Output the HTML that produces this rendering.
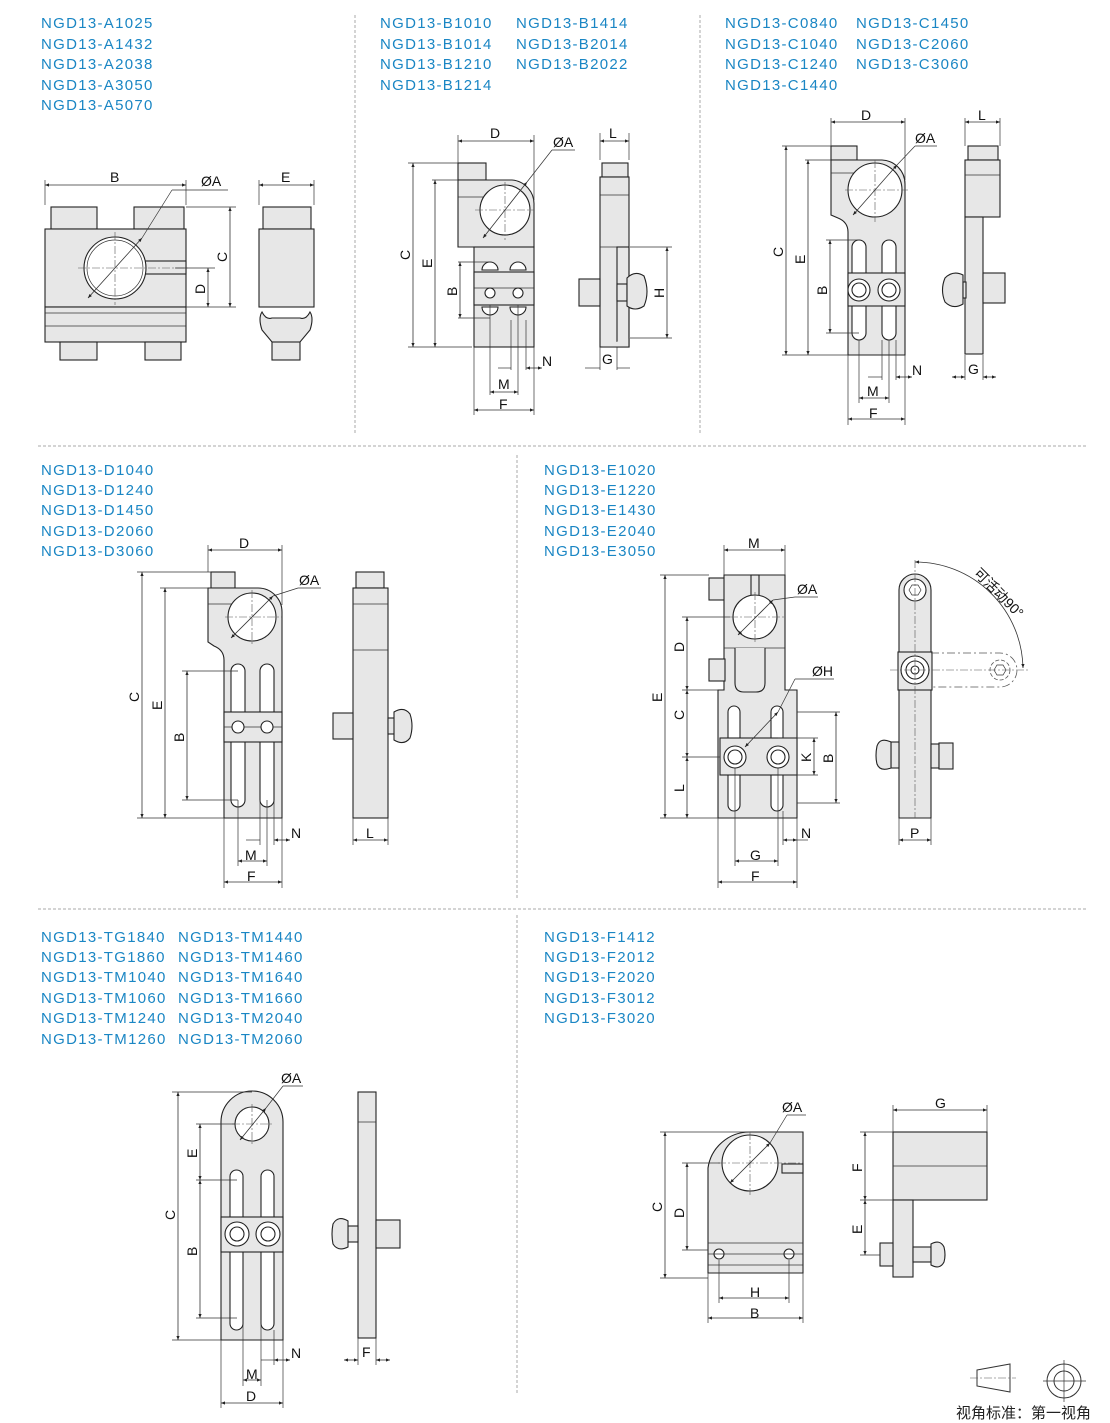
<!DOCTYPE html>
<html><head><meta charset="utf-8"><style>
html,body{margin:0;padding:0;background:#fff;}
svg{display:block;}
.t{font-family:"Liberation Sans",sans-serif;font-size:15px;fill:#1a86c4;letter-spacing:1.3px;}
.l{font-family:"Liberation Sans",sans-serif;font-size:14px;fill:#111;}
.p{fill:#e7e7e7;stroke:#222;stroke-width:1.1;}
.w{fill:#fff;stroke:#222;stroke-width:1.1;}
.d{stroke:#333;stroke-width:0.8;fill:none;marker-start:url(#a);marker-end:url(#a);}
.e{stroke:#333;stroke-width:0.7;fill:none;}
.c{stroke:#555;stroke-width:0.6;fill:none;stroke-dasharray:8 2 2 2;}
.sep{stroke:#aaa;stroke-width:1;stroke-dasharray:3 2;fill:none;}
</style></head><body>
<svg width="1110" height="1423" viewBox="0 0 1110 1423" xmlns="http://www.w3.org/2000/svg">
<defs><marker id="a" viewBox="0 0 10 10" refX="10" refY="5" markerWidth="7" markerHeight="5" orient="auto-start-reverse"><path d="M0,1 L10,5 L0,9 z" fill="#222"/></marker></defs>

<line class="sep" x1="355" y1="15" x2="355" y2="435"/>
<line class="sep" x1="700" y1="15" x2="700" y2="435"/>
<line class="sep" x1="38" y1="446" x2="1088" y2="446"/>
<line class="sep" x1="517" y1="455" x2="517" y2="900"/>
<line class="sep" x1="38" y1="909" x2="1088" y2="909"/>
<line class="sep" x1="517" y1="915" x2="517" y2="1395"/>

<g class="t">
<text x="41" y="28">NGD13-A1025</text><text x="41" y="49">NGD13-A1432</text><text x="41" y="69">NGD13-A2038</text><text x="41" y="90">NGD13-A3050</text><text x="41" y="110">NGD13-A5070</text>
<text x="380" y="28">NGD13-B1010</text><text x="380" y="49">NGD13-B1014</text><text x="380" y="69">NGD13-B1210</text><text x="380" y="90">NGD13-B1214</text>
<text x="516" y="28">NGD13-B1414</text><text x="516" y="49">NGD13-B2014</text><text x="516" y="69">NGD13-B2022</text>
<text x="725" y="28">NGD13-C0840</text><text x="725" y="49">NGD13-C1040</text><text x="725" y="69">NGD13-C1240</text><text x="725" y="90">NGD13-C1440</text>
<text x="856" y="28">NGD13-C1450</text><text x="856" y="49">NGD13-C2060</text><text x="856" y="69">NGD13-C3060</text>
<text x="41" y="475">NGD13-D1040</text><text x="41" y="495">NGD13-D1240</text><text x="41" y="515">NGD13-D1450</text><text x="41" y="536">NGD13-D2060</text><text x="41" y="556">NGD13-D3060</text>
<text x="544" y="475">NGD13-E1020</text><text x="544" y="495">NGD13-E1220</text><text x="544" y="515">NGD13-E1430</text><text x="544" y="536">NGD13-E2040</text><text x="544" y="556">NGD13-E3050</text>
<text x="41" y="942">NGD13-TG1840</text><text x="41" y="962">NGD13-TG1860</text><text x="41" y="982">NGD13-TM1040</text><text x="41" y="1003">NGD13-TM1060</text><text x="41" y="1023">NGD13-TM1240</text><text x="41" y="1044">NGD13-TM1260</text>
<text x="178" y="942">NGD13-TM1440</text><text x="178" y="962">NGD13-TM1460</text><text x="178" y="982">NGD13-TM1640</text><text x="178" y="1003">NGD13-TM1660</text><text x="178" y="1023">NGD13-TM2040</text><text x="178" y="1044">NGD13-TM2060</text>
<text x="544" y="942">NGD13-F1412</text><text x="544" y="962">NGD13-F2012</text><text x="544" y="982">NGD13-F2020</text><text x="544" y="1003">NGD13-F3012</text><text x="544" y="1023">NGD13-F3020</text>
</g>

<!-- ===== A ===== -->
<rect class="p" x="51" y="207" width="46" height="22"/><rect class="p" x="134" y="207" width="50" height="22"/>
<rect class="p" x="45" y="229" width="141" height="78"/>
<rect class="w" x="145" y="261" width="41" height="13" style="fill:#e7e7e7"/>
<rect class="p" x="45" y="307" width="141" height="35"/>
<line class="e" x1="45" y1="313" x2="186" y2="313"/><line class="e" x1="45" y1="326" x2="186" y2="326"/>
<rect class="p" x="60" y="342" width="37" height="18"/><rect class="p" x="145" y="342" width="36" height="18"/>
<circle class="w" cx="115" cy="268" r="31"/><circle class="e" cx="115" cy="268" r="28"/>
<line class="c" x1="78" y1="268" x2="190" y2="268"/><line class="c" x1="115" y1="232" x2="115" y2="305"/>
<line class="d" x1="88" y1="298" x2="142" y2="238"/><line class="e" x1="142" y1="238" x2="172" y2="190"/><line class="e" x1="172" y1="190" x2="228" y2="190"/>
<line class="e" x1="45" y1="180" x2="45" y2="205"/><line class="e" x1="186" y1="180" x2="186" y2="205"/>
<line class="d" x1="45" y1="185" x2="186" y2="185"/>
<text class="l" x="110" y="182">B</text><text class="l" x="201" y="186">ØA</text>
<line class="e" x1="186" y1="207" x2="236" y2="207"/><line class="e" x1="186" y1="307" x2="236" y2="307"/><line class="e" x1="175" y1="268" x2="215" y2="268"/>
<line class="d" x1="230" y1="207" x2="230" y2="307"/><line class="d" x1="208" y1="268" x2="208" y2="307"/>
<text class="l" x="227" y="262" transform="rotate(-90 227 262)">C</text><text class="l" x="205" y="294" transform="rotate(-90 205 294)">D</text>
<rect class="p" x="263" y="207" width="48" height="22"/><rect class="p" x="259" y="229" width="55" height="78"/>
<path class="p" d="M262,312 Q258,318 262,330 L272,342 L300,342 L310,330 Q314,318 310,312 Q306,320 300,318 L272,318 Q266,320 262,312z"/>
<rect class="p" x="272" y="342" width="28" height="18"/>
<line class="e" x1="259" y1="180" x2="259" y2="205"/><line class="e" x1="314" y1="180" x2="314" y2="205"/>
<line class="d" x1="259" y1="185" x2="314" y2="185"/><text class="l" x="281" y="182">E</text>

<!-- ===== B ===== -->
<rect class="p" x="458" y="163" width="28" height="17"/>
<path class="p" d="M458,180 L512,180 A24,24 0 0 1 534,205 L534,247 L458,247 z"/>
<line class="e" x1="458" y1="197" x2="488" y2="197"/>
<rect class="p" x="474" y="247" width="60" height="100"/>
<rect class="p" x="474" y="272" width="60" height="33"/>
<line class="e" x1="474" y1="288" x2="534" y2="288"/>
<circle class="w" cx="490" cy="293" r="5"/><circle class="w" cx="518" cy="293" r="5"/>
<path class="w" d="M482,270 a8,8 0 0 1 16,0z"/><path class="w" d="M510,270 a8,8 0 0 1 16,0z"/>
<path class="w" d="M482,307 a8,8 0 0 0 16,0z"/><path class="w" d="M510,307 a8,8 0 0 0 16,0z"/>
<circle class="w" cx="505" cy="210" r="25"/>
<line class="c" x1="475" y1="210" x2="534" y2="210"/><line class="c" x1="505" y1="182" x2="505" y2="240"/>
<line class="d" x1="483" y1="238" x2="527" y2="182"/><line class="e" x1="527" y1="182" x2="552" y2="150"/><line class="e" x1="552" y1="150" x2="575" y2="150"/>
<text class="l" x="553" y="147">ØA</text>
<line class="e" x1="458" y1="135" x2="458" y2="163"/><line class="e" x1="534" y1="135" x2="534" y2="200"/>
<line class="d" x1="458" y1="141" x2="534" y2="141"/><text class="l" x="490" y="138">D</text>
<line class="e" x1="408" y1="163" x2="458" y2="163"/><line class="e" x1="432" y1="180" x2="458" y2="180"/><line class="e" x1="408" y1="347" x2="472" y2="347"/>
<line class="e" x1="458" y1="262" x2="490" y2="262"/><line class="e" x1="458" y1="318" x2="490" y2="318"/>
<line class="d" x1="413" y1="163" x2="413" y2="347"/><line class="d" x1="435" y1="180" x2="435" y2="347"/><line class="d" x1="460" y1="262" x2="460" y2="318"/>
<text class="l" x="410" y="260" transform="rotate(-90 410 260)">C</text><text class="l" x="432" y="268" transform="rotate(-90 432 268)">E</text><text class="l" x="457" y="296" transform="rotate(-90 457 296)">B</text>
<line class="e" x1="474" y1="347" x2="474" y2="415"/><line class="e" x1="534" y1="347" x2="534" y2="415"/><line class="e" x1="490" y1="305" x2="490" y2="395"/><line class="e" x1="518" y1="305" x2="518" y2="395"/><line class="e" x1="511" y1="320" x2="511" y2="370"/><line class="e" x1="526" y1="320" x2="526" y2="370"/>
<line class="d" x1="490" y1="392" x2="518" y2="392"/><line class="d" x1="474" y1="410" x2="534" y2="410"/>
<line class="e" x1="498" y1="368" x2="511" y2="368"/><line class="d" x1="542" y1="368" x2="526" y2="368"/>
<text class="l" x="498" y="389">M</text><text class="l" x="499" y="409">F</text><text class="l" x="542" y="366">N</text>
<rect class="p" x="602" y="163" width="26" height="14"/>
<rect class="p" x="600" y="177" width="29" height="170"/>
<line class="e" x1="600" y1="195" x2="629" y2="195"/><line class="e" x1="600" y1="247" x2="629" y2="247"/>
<rect class="p" x="617" y="247" width="12" height="100" style="fill:none"/>
<path class="p" d="M629,338 L629,347 L600,347"/>
<rect class="p" x="579" y="279" width="21" height="27"/>
<rect class="p" x="617" y="284" width="10" height="17"/>
<path class="p" d="M627,278 Q635,270 644,276 Q650,292 644,306 Q635,312 627,306 z"/>
<line class="e" x1="600" y1="133" x2="600" y2="160"/><line class="e" x1="629" y1="133" x2="629" y2="160"/>
<line class="d" x1="600" y1="141" x2="629" y2="141"/><text class="l" x="609" y="138">L</text>
<line class="e" x1="630" y1="247" x2="672" y2="247"/><line class="e" x1="630" y1="338" x2="672" y2="338"/>
<line class="d" x1="667" y1="247" x2="667" y2="338"/><text class="l" x="664" y="298" transform="rotate(-90 664 298)">H</text>
<line class="e" x1="600" y1="347" x2="600" y2="370"/><line class="e" x1="617" y1="347" x2="617" y2="370"/>
<line class="e" x1="585" y1="368" x2="600" y2="368"/><line class="e" x1="617" y1="368" x2="630" y2="368"/>
<text class="l" x="602" y="364">G</text>

<!-- ===== C ===== -->
<rect class="p" x="831" y="146" width="26" height="14"/>
<path class="p" d="M831,160 L882,160 A24,24 0 0 1 905,184 L905,355 L848,355 L848,232 Q848,222 838,218 L831,215 z"/>
<line class="e" x1="831" y1="173" x2="860" y2="173"/>
<circle class="w" cx="875" cy="190" r="27"/>
<line class="c" x1="845" y1="190" x2="908" y2="190"/><line class="c" x1="875" y1="160" x2="875" y2="222"/>
<rect class="w" x="852" y="240" width="14" height="100" rx="7"/><rect class="w" x="882" y="240" width="14" height="100" rx="7"/>
<rect class="p" x="848" y="273" width="57" height="33"/>
<circle class="w" cx="859" cy="290" r="11"/><circle class="w" cx="859" cy="290" r="7"/>
<circle class="w" cx="889" cy="290" r="11"/><circle class="w" cx="889" cy="290" r="7"/>
<line class="d" x1="853" y1="215" x2="897" y2="165"/><line class="e" x1="897" y1="165" x2="915" y2="146"/><line class="e" x1="915" y1="146" x2="937" y2="146"/>
<text class="l" x="915" y="143">ØA</text>
<line class="e" x1="831" y1="118" x2="831" y2="146"/><line class="e" x1="905" y1="118" x2="905" y2="180"/>
<line class="d" x1="831" y1="122" x2="905" y2="122"/><text class="l" x="861" y="120">D</text>
<line class="e" x1="782" y1="146" x2="831" y2="146"/><line class="e" x1="805" y1="160" x2="831" y2="160"/><line class="e" x1="782" y1="355" x2="848" y2="355"/>
<line class="e" x1="826" y1="240" x2="859" y2="240"/><line class="e" x1="826" y1="333" x2="859" y2="333"/>
<line class="d" x1="786" y1="146" x2="786" y2="355"/><line class="d" x1="808" y1="160" x2="808" y2="355"/><line class="d" x1="830" y1="240" x2="830" y2="333"/>
<text class="l" x="783" y="257" transform="rotate(-90 783 257)">C</text><text class="l" x="805" y="264" transform="rotate(-90 805 264)">E</text><text class="l" x="827" y="295" transform="rotate(-90 827 295)">B</text>
<line class="e" x1="848" y1="355" x2="848" y2="425"/><line class="e" x1="905" y1="355" x2="905" y2="425"/><line class="e" x1="859" y1="340" x2="859" y2="403"/><line class="e" x1="889" y1="340" x2="889" y2="403"/><line class="e" x1="882" y1="340" x2="882" y2="380"/><line class="e" x1="896" y1="340" x2="896" y2="380"/>
<line class="d" x1="859" y1="398" x2="889" y2="398"/><line class="d" x1="848" y1="419" x2="905" y2="419"/>
<line class="e" x1="868" y1="377" x2="882" y2="377"/><line class="d" x1="912" y1="377" x2="896" y2="377"/>
<text class="l" x="867" y="396">M</text><text class="l" x="869" y="418">F</text><text class="l" x="912" y="375">N</text>
<rect class="p" x="968" y="146" width="30" height="14"/>
<rect class="p" x="965" y="160" width="35" height="57"/><line class="e" x1="965" y1="175" x2="1000" y2="175"/>
<rect class="p" x="965" y="217" width="18" height="137"/>
<rect class="p" x="983" y="273" width="22" height="30"/>
<path class="p" d="M963,275 Q953,270 945,278 Q940,290 945,302 Q953,310 963,304 z"/>
<rect class="p" x="963" y="282" width="3" height="16"/>
<line class="e" x1="965" y1="118" x2="965" y2="146"/><line class="e" x1="1000" y1="118" x2="1000" y2="146"/>
<line class="d" x1="965" y1="122" x2="1000" y2="122"/><text class="l" x="978" y="120">L</text>
<line class="e" x1="965" y1="355" x2="965" y2="380"/><line class="e" x1="983" y1="355" x2="983" y2="380"/>
<line class="d" x1="952" y1="377" x2="965" y2="377"/><line class="d" x1="996" y1="377" x2="983" y2="377"/>
<text class="l" x="968" y="374">G</text>

<!-- ===== D ===== -->
<rect class="p" x="211" y="572" width="24" height="16"/>
<path class="p" d="M208,588 L258,588 A24,24 0 0 1 282,612 L282,818 L224,818 L224,660 Q224,650 214,646 L208,642 z"/>
<line class="e" x1="208" y1="604" x2="238" y2="604"/>
<circle class="w" cx="252" cy="617" r="24"/>
<line class="c" x1="225" y1="617" x2="282" y2="617"/><line class="c" x1="252" y1="590" x2="252" y2="645"/>
<rect class="w" x="231" y="664" width="14" height="143" rx="7"/><rect class="w" x="260" y="664" width="14" height="143" rx="7"/>
<rect class="p" x="224" y="712" width="58" height="30"/>
<line class="e" x1="224" y1="727" x2="282" y2="727"/>
<circle class="w" cx="238" cy="727" r="6"/><circle class="w" cx="267" cy="727" r="6"/>
<line class="d" x1="231" y1="638" x2="273" y2="596"/><line class="e" x1="273" y1="596" x2="298" y2="588"/><line class="e" x1="298" y1="588" x2="321" y2="588"/>
<text class="l" x="299" y="585">ØA</text>
<line class="e" x1="208" y1="545" x2="208" y2="572"/><line class="e" x1="282" y1="545" x2="282" y2="605"/>
<line class="d" x1="208" y1="550" x2="282" y2="550"/><text class="l" x="239" y="548">D</text>
<line class="e" x1="137" y1="572" x2="211" y2="572"/><line class="e" x1="160" y1="588" x2="208" y2="588"/><line class="e" x1="137" y1="818" x2="224" y2="818"/>
<line class="e" x1="182" y1="671" x2="238" y2="671"/><line class="e" x1="182" y1="800" x2="238" y2="800"/>
<line class="d" x1="142" y1="572" x2="142" y2="818"/><line class="d" x1="165" y1="588" x2="165" y2="818"/><line class="d" x1="187" y1="671" x2="187" y2="800"/>
<text class="l" x="139" y="702" transform="rotate(-90 139 702)">C</text><text class="l" x="162" y="710" transform="rotate(-90 162 710)">E</text><text class="l" x="184" y="742" transform="rotate(-90 184 742)">B</text>
<line class="e" x1="224" y1="818" x2="224" y2="888"/><line class="e" x1="282" y1="818" x2="282" y2="888"/><line class="e" x1="238" y1="800" x2="238" y2="866"/><line class="e" x1="267" y1="800" x2="267" y2="866"/><line class="e" x1="260" y1="800" x2="260" y2="845"/><line class="e" x1="274" y1="800" x2="274" y2="845"/>
<line class="d" x1="238" y1="861" x2="267" y2="861"/><line class="d" x1="224" y1="882" x2="282" y2="882"/>
<line class="e" x1="246" y1="840" x2="260" y2="840"/><line class="d" x1="290" y1="840" x2="274" y2="840"/>
<text class="l" x="245" y="860">M</text><text class="l" x="247" y="881">F</text><text class="l" x="291" y="838">N</text>
<rect class="p" x="356" y="572" width="28" height="16"/>
<rect class="p" x="353" y="588" width="35" height="230"/>
<line class="e" x1="353" y1="604" x2="388" y2="604"/><line class="e" x1="353" y1="650" x2="388" y2="650"/>
<rect class="p" x="333" y="713" width="20" height="26"/><rect class="p" x="388" y="718" width="8" height="16"/>
<path class="p" d="M394,712 Q404,706 410,714 Q414,726 410,738 Q404,746 394,740 z"/>
<line class="e" x1="353" y1="818" x2="353" y2="845"/><line class="e" x1="388" y1="818" x2="388" y2="845"/>
<line class="d" x1="353" y1="840" x2="388" y2="840"/><text class="l" x="366" y="838">L</text>

<!-- ===== E ===== -->
<rect class="p" x="709" y="578" width="16" height="22"/>
<path class="p" d="M724,575 L785,575 L785,690 L797,690 L797,818 L718,818 L718,690 L724,690 z"/>
<rect class="w" x="751" y="575" width="8" height="22" style="fill:#e7e7e7"/>
<line class="e" x1="724" y1="648" x2="785" y2="648"/>
<rect class="p" x="709" y="659" width="16" height="22"/>
<path class="w" d="M735,648 L735,683 Q735,692 744,692 L756,692 Q765,692 765,683 L765,648" style="fill:#e7e7e7"/>
<circle class="w" cx="755" cy="617" r="22"/>
<line class="c" x1="730" y1="617" x2="785" y2="617"/><line class="c" x1="755" y1="592" x2="755" y2="642"/>
<rect class="w" x="728" y="706" width="12" height="105" rx="6"/><rect class="w" x="771" y="706" width="12" height="105" rx="6"/>
<rect class="p" x="720" y="738" width="77" height="37"/>
<circle class="w" cx="735" cy="757" r="11"/><circle class="w" cx="735" cy="757" r="7"/>
<circle class="w" cx="778" cy="757" r="11"/><circle class="w" cx="778" cy="757" r="7"/>
<line class="d" x1="738" y1="635" x2="773" y2="600"/><line class="e" x1="773" y1="600" x2="795" y2="597"/><line class="e" x1="795" y1="597" x2="818" y2="597"/>
<text class="l" x="797" y="594">ØA</text>
<line class="d" x1="745" y1="747" x2="778" y2="712"/><line class="e" x1="778" y1="712" x2="795" y2="679"/><line class="e" x1="795" y1="679" x2="834" y2="679"/>
<text class="l" x="812" y="676">ØH</text>
<line class="e" x1="724" y1="545" x2="724" y2="575"/><line class="e" x1="785" y1="545" x2="785" y2="575"/>
<line class="d" x1="724" y1="550" x2="785" y2="550"/><text class="l" x="748" y="548">M</text>
<line class="e" x1="660" y1="575" x2="709" y2="575"/><line class="e" x1="682" y1="617" x2="730" y2="617"/><line class="e" x1="682" y1="690" x2="718" y2="690"/><line class="e" x1="682" y1="757" x2="720" y2="757"/><line class="e" x1="660" y1="818" x2="718" y2="818"/>
<line class="d" x1="665" y1="575" x2="665" y2="818"/><line class="d" x1="687" y1="617" x2="687" y2="690"/><line class="d" x1="687" y1="690" x2="687" y2="757"/><line class="d" x1="687" y1="757" x2="687" y2="818"/>
<text class="l" x="662" y="702" transform="rotate(-90 662 702)">E</text><text class="l" x="684" y="652" transform="rotate(-90 684 652)">D</text><text class="l" x="684" y="720" transform="rotate(-90 684 720)">C</text><text class="l" x="684" y="792" transform="rotate(-90 684 792)">L</text>
<line class="e" x1="797" y1="712" x2="840" y2="712"/><line class="e" x1="797" y1="803" x2="840" y2="803"/><line class="e" x1="778" y1="738" x2="818" y2="738"/><line class="e" x1="778" y1="775" x2="818" y2="775"/>
<line class="d" x1="836" y1="712" x2="836" y2="803"/><line class="d" x1="814" y1="738" x2="814" y2="775"/>
<text class="l" x="833" y="763" transform="rotate(-90 833 763)">B</text><text class="l" x="811" y="762" transform="rotate(-90 811 762)">K</text>
<line class="e" x1="718" y1="818" x2="718" y2="888"/><line class="e" x1="797" y1="818" x2="797" y2="888"/><line class="e" x1="735" y1="768" x2="735" y2="866"/><line class="e" x1="778" y1="768" x2="778" y2="866"/><line class="e" x1="783" y1="811" x2="783" y2="845"/>
<line class="d" x1="735" y1="861" x2="778" y2="861"/><line class="d" x1="718" y1="882" x2="797" y2="882"/>
<line class="d" x1="797" y1="840" x2="783" y2="840"/><line class="e" x1="797" y1="840" x2="808" y2="840"/>
<text class="l" x="750" y="860">G</text><text class="l" x="751" y="881">F</text><text class="l" x="801" y="838">N</text>
<path class="p" d="M899,590 A16,16 0 0 1 931,590 L931,818 L899,818 z"/>
<line class="e" x1="899" y1="652" x2="931" y2="652"/><line class="e" x1="899" y1="690" x2="931" y2="690"/>
<rect class="p" x="898" y="652" width="34" height="38"/>
<circle class="w" cx="915" cy="590" r="11"/><polygon class="e" points="909,590 912,585 918,585 921,590 918,595 912,595"/>
<circle class="w" cx="915" cy="670" r="14"/><circle class="w" cx="915" cy="670" r="9"/><circle class="w" cx="915" cy="670" r="4"/>
<path d="M931,653 L1000,653 A17,17 0 0 1 1000,687 L931,687" fill="none" stroke="#555" stroke-width="0.8" stroke-dasharray="8 3 2 3"/>
<circle cx="1000" cy="670" r="10" fill="none" stroke="#555" stroke-width="0.8" stroke-dasharray="4 2"/>
<polygon class="e" points="994,670 997,665 1003,665 1006,670 1003,675 997,675"/>
<line class="c" x1="915" y1="560" x2="915" y2="818"/><line class="c" x1="890" y1="670" x2="1028" y2="670"/>
<path d="M915,562 A108,108 0 0 1 1023,668" fill="none" stroke="#333" stroke-width="0.8" marker-start="url(#a)" marker-end="url(#a)"/>
<text class="l" x="973" y="574" transform="rotate(45 973 574)">可活动90°</text>
<rect class="p" x="891" y="742" width="8" height="26"/><rect class="p" x="931" y="744" width="8" height="24"/><rect class="p" x="939" y="743" width="14" height="26"/>
<path class="p" d="M891,742 Q880,737 877,746 Q875,756 877,764 Q880,772 891,768 z"/>
<line class="e" x1="899" y1="818" x2="899" y2="845"/><line class="e" x1="931" y1="818" x2="931" y2="845"/>
<line class="d" x1="899" y1="840" x2="931" y2="840"/><text class="l" x="910" y="838">P</text>

<!-- ===== TG/TM ===== -->
<path class="p" d="M221,1122 A31,31 0 0 1 283,1122 L283,1340 L221,1340 z"/>
<circle class="w" cx="252" cy="1124" r="17"/>
<line class="c" x1="232" y1="1124" x2="272" y2="1124"/><line class="c" x1="252" y1="1104" x2="252" y2="1144"/>
<rect class="w" x="230" y="1170" width="13" height="160" rx="6.5"/><rect class="w" x="261" y="1170" width="13" height="160" rx="6.5"/>
<rect class="p" x="221" y="1217" width="62" height="35"/>
<circle class="w" cx="237" cy="1234" r="12"/><circle class="w" cx="237" cy="1234" r="7"/>
<circle class="w" cx="268" cy="1234" r="12"/><circle class="w" cx="268" cy="1234" r="7"/>
<line class="d" x1="240" y1="1140" x2="266" y2="1108"/><line class="e" x1="266" y1="1108" x2="283" y2="1086"/><line class="e" x1="283" y1="1086" x2="303" y2="1086"/>
<text class="l" x="281" y="1083">ØA</text>
<line class="e" x1="172" y1="1092" x2="252" y2="1092"/><line class="e" x1="196" y1="1124" x2="235" y2="1124"/><line class="e" x1="172" y1="1340" x2="221" y2="1340"/>
<line class="e" x1="196" y1="1180" x2="237" y2="1180"/><line class="e" x1="196" y1="1318" x2="237" y2="1318"/>
<line class="d" x1="178" y1="1092" x2="178" y2="1340"/><line class="d" x1="200" y1="1124" x2="200" y2="1180"/><line class="d" x1="200" y1="1180" x2="200" y2="1318"/>
<text class="l" x="175" y="1220" transform="rotate(-90 175 1220)">C</text><text class="l" x="197" y="1158" transform="rotate(-90 197 1158)">E</text><text class="l" x="197" y="1256" transform="rotate(-90 197 1256)">B</text>
<line class="e" x1="221" y1="1340" x2="221" y2="1408"/><line class="e" x1="283" y1="1340" x2="283" y2="1408"/><line class="e" x1="243" y1="1320" x2="243" y2="1386"/><line class="e" x1="261" y1="1320" x2="261" y2="1386"/><line class="e" x1="274" y1="1330" x2="274" y2="1365"/>
<line class="d" x1="243" y1="1380" x2="261" y2="1380"/><line class="d" x1="221" y1="1403" x2="283" y2="1403"/>
<line class="d" x1="290" y1="1360" x2="274" y2="1360"/><line class="e" x1="261" y1="1360" x2="274" y2="1360"/>
<text class="l" x="246" y="1379">M</text><text class="l" x="246" y="1401">D</text><text class="l" x="291" y="1358">N</text>
<rect class="p" x="358" y="1092" width="18" height="246"/>
<line class="e" x1="358" y1="1122" x2="376" y2="1122"/>
<rect class="p" x="376" y="1220" width="24" height="28"/><rect class="p" x="348" y="1226" width="10" height="16"/>
<path class="p" d="M348,1221 Q338,1215 333,1224 Q331,1234 333,1244 Q338,1252 348,1247 z"/>
<line class="e" x1="358" y1="1338" x2="358" y2="1365"/><line class="e" x1="376" y1="1338" x2="376" y2="1365"/>
<line class="d" x1="344" y1="1360" x2="358" y2="1360"/><line class="d" x1="390" y1="1360" x2="376" y2="1360"/>
<text class="l" x="362" y="1357">F</text>

<!-- ===== F ===== -->
<path class="p" d="M708,1168 A42,42 0 0 1 750,1132 L803,1132 L803,1273 L708,1273 z"/>
<rect class="p" x="782" y="1164" width="21" height="9"/>
<circle class="w" cx="750" cy="1163" r="28"/>
<line class="c" x1="718" y1="1163" x2="803" y2="1163"/><line class="c" x1="750" y1="1132" x2="750" y2="1195"/>
<line class="e" x1="708" y1="1243" x2="803" y2="1243"/><line class="e" x1="708" y1="1265" x2="803" y2="1265"/>
<circle class="w" cx="719" cy="1254" r="5"/><circle class="w" cx="789" cy="1254" r="5"/>
<line class="e" x1="708" y1="1254" x2="803" y2="1254"/>
<line class="d" x1="730" y1="1183" x2="770" y2="1143"/><line class="e" x1="770" y1="1143" x2="787" y2="1115"/><line class="e" x1="787" y1="1115" x2="806" y2="1115"/>
<text class="l" x="782" y="1112">ØA</text>
<line class="e" x1="660" y1="1132" x2="750" y2="1132"/><line class="e" x1="682" y1="1163" x2="720" y2="1163"/><line class="e" x1="660" y1="1278" x2="708" y2="1278"/><line class="e" x1="682" y1="1250" x2="708" y2="1250"/>
<line class="d" x1="665" y1="1132" x2="665" y2="1278"/><line class="d" x1="687" y1="1163" x2="687" y2="1250"/>
<text class="l" x="662" y="1212" transform="rotate(-90 662 1212)">C</text><text class="l" x="684" y="1218" transform="rotate(-90 684 1218)">D</text>
<line class="e" x1="708" y1="1273" x2="708" y2="1323"/><line class="e" x1="803" y1="1273" x2="803" y2="1323"/><line class="e" x1="719" y1="1260" x2="719" y2="1303"/><line class="e" x1="789" y1="1260" x2="789" y2="1303"/>
<line class="d" x1="719" y1="1298" x2="789" y2="1298"/><line class="d" x1="708" y1="1318" x2="803" y2="1318"/>
<text class="l" x="750" y="1297">H</text><text class="l" x="750" y="1318">B</text>
<rect class="p" x="893" y="1132" width="94" height="68"/>
<line class="e" x1="893" y1="1166" x2="987" y2="1166"/>
<rect class="p" x="893" y="1200" width="20" height="77"/>
<rect class="p" x="880" y="1243" width="13" height="23"/><rect class="p" x="913" y="1247" width="18" height="15"/>
<path class="p" d="M931,1244 Q940,1239 944,1247 Q946,1255 944,1262 Q940,1270 931,1265 z"/>
<line class="e" x1="893" y1="1105" x2="893" y2="1132"/><line class="e" x1="987" y1="1105" x2="987" y2="1132"/>
<line class="d" x1="893" y1="1110" x2="987" y2="1110"/><text class="l" x="935" y="1108">G</text>
<line class="e" x1="860" y1="1132" x2="893" y2="1132"/><line class="e" x1="860" y1="1200" x2="893" y2="1200"/><line class="e" x1="860" y1="1255" x2="880" y2="1255"/>
<line class="d" x1="865" y1="1132" x2="865" y2="1200"/><line class="d" x1="865" y1="1200" x2="865" y2="1255"/>
<text class="l" x="862" y="1172" transform="rotate(-90 862 1172)">F</text><text class="l" x="862" y="1234" transform="rotate(-90 862 1234)">E</text>

<polygon points="977,1370 1010,1364 1010,1392 977,1386" fill="none" stroke="#333" stroke-width="1"/>
<line class="c" x1="970" y1="1378" x2="1016" y2="1378"/>
<circle cx="1064" cy="1381" r="17" fill="none" stroke="#333" stroke-width="1"/>
<circle cx="1064" cy="1381" r="10" fill="none" stroke="#333" stroke-width="1"/>
<line class="e" x1="1043" y1="1381" x2="1086" y2="1381"/><line class="e" x1="1064" y1="1360" x2="1064" y2="1402"/>
<text x="956" y="1418" style="font-family:'Liberation Sans','Noto Sans CJK SC',sans-serif;font-size:15px;fill:#222;">视角标准：第一视角</text>
</svg>
</body></html>
